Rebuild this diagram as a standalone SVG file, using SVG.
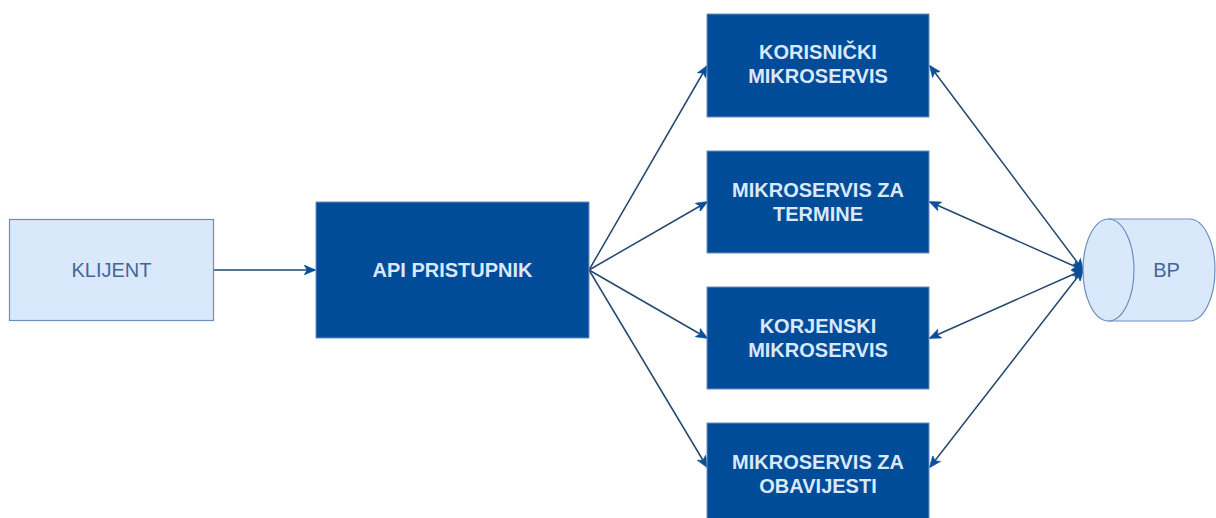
<svg xmlns="http://www.w3.org/2000/svg" width="1216" height="518" viewBox="0 0 1216 518">
  <style>
    .light { fill: #dae8fc; stroke: #6c8ebf; stroke-width: 1.2; }
    .dark { fill: #004c99; stroke: #6c8ebf; stroke-width: 1; }
    .tl { font-family: "Liberation Sans", Arial, sans-serif; font-size: 20px; fill: #43679a; text-anchor: middle; dominant-baseline: central; }
    .td { font-family: "Liberation Sans", Arial, sans-serif; font-size: 20px; font-weight: bold; fill: #dae8fc; text-anchor: middle; dominant-baseline: central; }
    .edge { fill: none; stroke: #26476f; stroke-width: 1.5; }
  </style>
  <defs>
    <marker id="arr" viewBox="0 0 12 10" refX="11" refY="5" markerWidth="12" markerHeight="10" markerUnits="userSpaceOnUse" orient="auto-start-reverse">
      <path d="M0,0 L12,5 L0,10 L3,5 Z" fill="#0b4f9c" stroke="#0b4f9c" stroke-width="0.5"/>
    </marker>
  </defs>
  <rect width="1216" height="518" fill="#ffffff"/>

  <g id="connectors">
    <line class="edge" x1="214" y1="270" x2="315" y2="270" marker-end="url(#arr)"/>
    <line class="edge" x1="589" y1="270" x2="707" y2="66" marker-end="url(#arr)"/>
    <line class="edge" x1="589" y1="270" x2="707" y2="202" marker-end="url(#arr)"/>
    <line class="edge" x1="589" y1="270" x2="707" y2="338" marker-end="url(#arr)"/>
    <line class="edge" x1="589" y1="270" x2="707" y2="467" marker-end="url(#arr)"/>
    <line class="edge" x1="930" y1="66" x2="1083" y2="270" marker-start="url(#arr)" marker-end="url(#arr)"/>
    <line class="edge" x1="930" y1="202" x2="1083" y2="270" marker-start="url(#arr)" marker-end="url(#arr)"/>
    <line class="edge" x1="930" y1="338" x2="1083" y2="270" marker-start="url(#arr)" marker-end="url(#arr)"/>
    <line class="edge" x1="930" y1="467" x2="1083" y2="270" marker-start="url(#arr)" marker-end="url(#arr)"/>
  </g>

  <g id="klijent">
    <rect class="light" x="9.5" y="219.5" width="204" height="101"/>
    <text class="tl" x="111.5" y="270">KLIJENT</text>
  </g>

  <g id="api-pristupnik">
    <rect class="dark" x="316" y="202" width="273" height="136"/>
    <text class="td" x="452.5" y="270">API PRISTUPNIK</text>
  </g>

  <g id="korisnicki">
    <rect class="dark" x="707" y="14" width="222" height="103"/>
    <text class="td" x="818" y="52">KORISNIČKI</text>
    <text class="td" x="818" y="76">MIKROSERVIS</text>
  </g>

  <g id="termine">
    <rect class="dark" x="707" y="151" width="222" height="102"/>
    <text class="td" x="818" y="190">MIKROSERVIS ZA</text>
    <text class="td" x="818" y="214">TERMINE</text>
  </g>

  <g id="korjenski">
    <rect class="dark" x="707" y="287" width="222" height="102"/>
    <text class="td" x="818" y="326">KORJENSKI</text>
    <text class="td" x="818" y="350">MIKROSERVIS</text>
  </g>

  <g id="obavijesti">
    <rect class="dark" x="707" y="423" width="222" height="103"/>
    <text class="td" x="818" y="462">MIKROSERVIS ZA</text>
    <text class="td" x="818" y="486">OBAVIJESTI</text>
  </g>

  <g id="bp">
    <path d="M1108.5,219 L1189.5,219 A25.5,51 0 0 1 1189.5,321 L1108.5,321 A25.5,51 0 0 1 1108.5,219 Z" fill="#dae8fc" stroke="#6c8ebf" stroke-width="1.2"/>
    <path d="M1108.5,219 A25.5,51 0 0 1 1108.5,321" fill="none" stroke="#6c8ebf" stroke-width="1.2"/>
    <text class="tl" x="1166.5" y="270">BP</text>
  </g>
</svg>
